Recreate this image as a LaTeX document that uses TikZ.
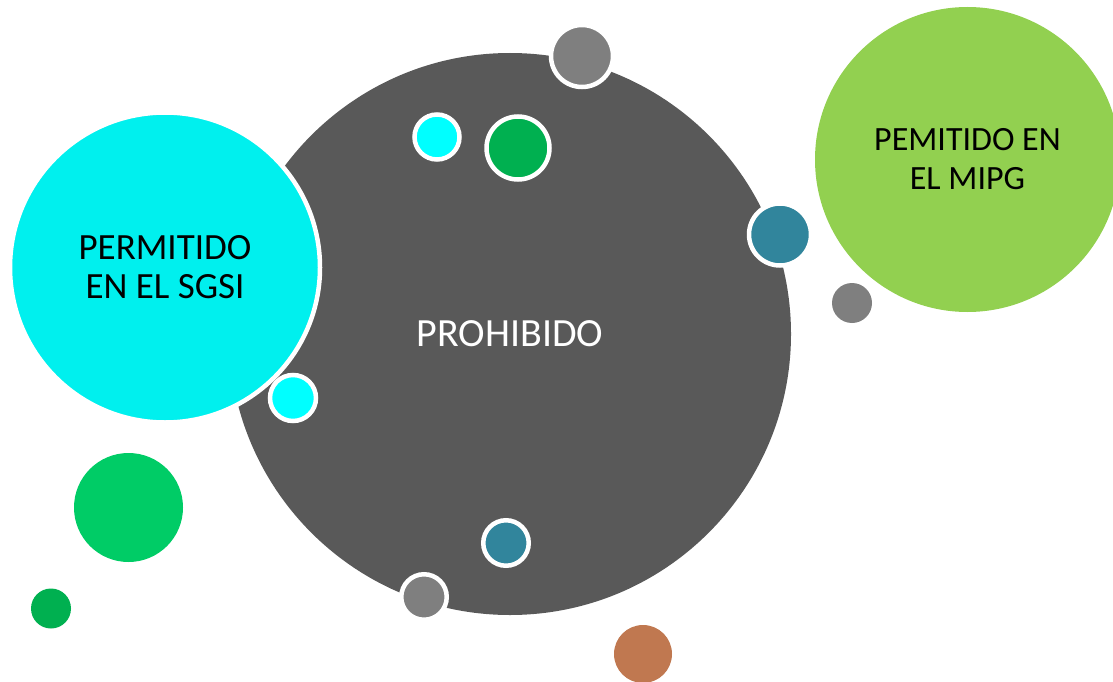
\documentclass[tikz,border=0pt]{standalone}
\usepackage{fontspec}
\setmainfont{Carlito}
\definecolor{darkgrey}{HTML}{595959}
\definecolor{midgrey}{HTML}{7F7F7F}
\definecolor{aqua}{HTML}{00F0EE}
\definecolor{brightaqua}{HTML}{00FFFF}
\definecolor{deepgreen}{HTML}{00B050}
\definecolor{mintgreen}{HTML}{00CC66}
\definecolor{limegreen}{HTML}{92D050}
\definecolor{tealblue}{HTML}{31859C}
\definecolor{clay}{HTML}{C07850}
\begin{document}
\begin{tikzpicture}
    [
        x=1pt,y=-1pt,
        bubble/.style={circle, inner sep=0pt, outer sep=0pt, fill=#1,},
        ring/.style={bubble=#1, draw=white, line width=4.5pt,},
        txt/.style={font=\fontsize{#1}{39}\selectfont, align=center,},
    ]
    \useasboundingbox (0,0) rectangle (1113,682);

    % big circles
    \node (prohibido) at (510,334)     [bubble=darkgrey, minimum size=562, txt=40, text=white] {PROHIBIDO};
    \node (sgsi)      at (165,267.5)   [ring=aqua, minimum size=310, txt=37] {PERMITIDO\\EN EL SGSI};
    \node (mipg)      at (967.5,159.5) [bubble=limegreen, minimum size=305, txt=34] {PEMITIDO EN\\EL MIPG};

    % small circles with ring
    \node (1) at (582,56)    [ring=midgrey, minimum size=62]      {};
    \node (2) at (437,137)   [ring=brightaqua, minimum size=45]   {};
    \node (3) at (518,148)   [ring=deepgreen, minimum size=63]    {};
    \node (4) at (780,234.5) [ring=tealblue, minimum size=62]     {};
    \node (5) at (293,398)   [ring=brightaqua, minimum size=46]   {};
    \node (6) at (506,543)   [ring=tealblue, minimum size=45.5]   {};
    \node (7) at (424,597)   [ring=midgrey, minimum size=45.5]    {};

    % small circles without ring
    \node (8)  at (852,303)     [bubble=midgrey, minimum size=40]    {};
    \node (9)  at (643,654)     [bubble=clay, minimum size=58]       {};
    \node (10) at (128.5,507.5) [bubble=mintgreen, minimum size=109] {};
    \node (11) at (51,608.5)    [bubble=deepgreen, minimum size=40]  {};

\end{tikzpicture}
\end{document}
